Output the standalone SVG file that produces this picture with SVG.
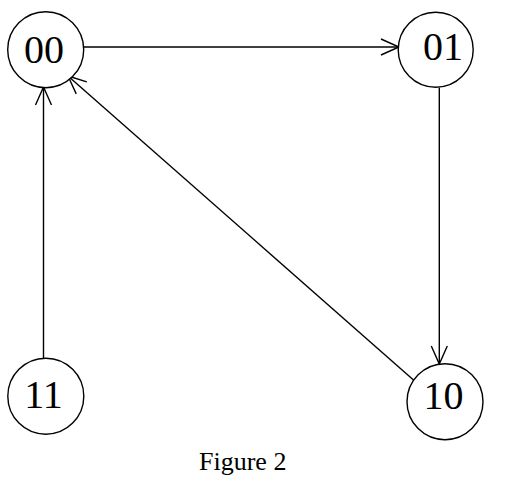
<svg xmlns="http://www.w3.org/2000/svg" width="514" height="487" viewBox="0 0 514 487">
<style>
.node circle{fill:#fff;stroke:#000;stroke-width:1.4}
.node text{font-family:"Liberation Serif","Times New Roman",serif;font-size:40px;text-anchor:middle;fill:#000}
.edge{stroke:#000;stroke-width:1.4;fill:none;marker-end:url(#arr)}
.cap{font-family:"Liberation Serif","Times New Roman",serif;font-size:26px;fill:#000}
</style>
<defs>
<marker id="arr" markerUnits="userSpaceOnUse" viewBox="-20 -10 22 20" refX="0" refY="0" markerWidth="22" markerHeight="20" orient="auto" overflow="visible">
<path d="M-18,-8 L0,0 L-18,8" fill="none" stroke="#000" stroke-width="1.4"/>
</marker>
</defs>
<rect width="514" height="487" fill="#fff"/>
<g id="connectors">
<line class="edge" x1="84" y1="47" x2="399" y2="47"/>
<line class="edge" x1="439.3" y1="87.5" x2="439.3" y2="364"/>
<line class="edge" x1="43.5" y1="358.5" x2="43.5" y2="87"/>
<line class="edge" x1="413.5" y1="380" x2="68" y2="76"/>
</g>
<g id="node-00" class="node"><circle cx="45.7" cy="49.7" r="38"/><text x="44" y="63">00</text></g>
<g id="node-01" class="node"><circle cx="435.7" cy="49.8" r="37.5"/><text x="443" y="60">01</text></g>
<g id="node-11" class="node"><circle cx="45.8" cy="396.2" r="38"/><text x="43.6" y="407.5">11</text></g>
<g id="node-10" class="node"><circle cx="445" cy="401.7" r="38"/><text x="443.6" y="409">10</text></g>
<text class="cap" x="199" y="470">Figure 2</text>
</svg>
